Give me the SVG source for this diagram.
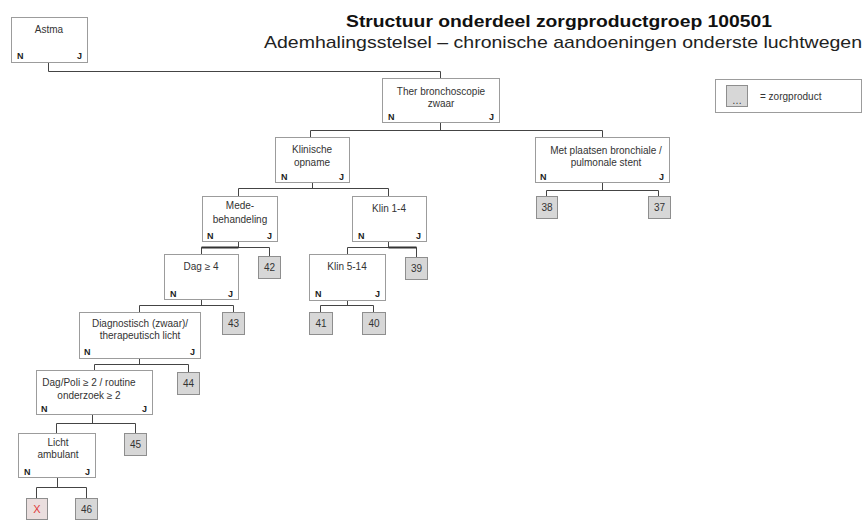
<svg xmlns="http://www.w3.org/2000/svg" width="865" height="520" viewBox="0 0 865 520">
<style>
.bg{fill:#fff}
.box{fill:#fff;stroke:#9c9c9c;stroke-width:1}
.prod{fill:#d7d7d7;stroke:#8e8e8e;stroke-width:1}
.xbox{fill:#eadede;stroke:#8e8e8e;stroke-width:1}
.t{font-family:"Liberation Sans",Arial,sans-serif;font-size:10px;fill:#333;text-anchor:middle}
.n{font-family:"Liberation Sans",Arial,sans-serif;font-size:9px;font-weight:bold;fill:#222;text-anchor:start}
.j{font-family:"Liberation Sans",Arial,sans-serif;font-size:9px;font-weight:bold;fill:#222;text-anchor:end}
.p{font-family:"Liberation Sans",Arial,sans-serif;font-size:10px;fill:#333;text-anchor:middle}
.ln{fill:none;stroke:#444;stroke-width:1}
.thk{fill:none;stroke:#333;stroke-width:2}
.title{font-family:"Liberation Sans",Arial,sans-serif;font-size:17px;font-weight:bold;fill:#111}
.sub{font-family:"Liberation Sans",Arial,sans-serif;font-size:17px;fill:#222}
</style>
<rect class="bg" x="0" y="0" width="865" height="520"/>

<g id="title">
<text class="title" x="346" y="27" textLength="426" lengthAdjust="spacingAndGlyphs">Structuur onderdeel zorgproductgroep 100501</text>
<text class="sub" x="264" y="48" textLength="598" lengthAdjust="spacingAndGlyphs">Ademhalingsstelsel – chronische aandoeningen onderste luchtwegen</text>
</g>

<g id="legend">
<rect class="box" x="715.5" y="79.5" width="146" height="33"/>
<rect class="prod" x="726.5" y="85.5" width="21" height="21"/>
<text class="p" x="737" y="104" font-size="8">…</text>
<text class="t" x="760" y="100" style="text-anchor:start">= zorgproduct</text>
</g>

<g id="connectors">
<path class="ln" d="M48.5,63 V71.5 H440.5 V78"/>
<path class="ln" d="M440.5,123 V130.5"/>
<path class="ln" d="M310.5,137 V130.5 H602.5 V137"/>
<path class="ln" d="M312.5,183 V188.5"/>
<path class="ln" d="M238.5,196 V188.5 H388.5 V196"/>
<path class="ln" d="M602.5,183 V190.5"/>
<path class="ln" d="M546.5,196 V190.5 H658.5 V196"/>
<path class="ln" d="M238.5,242 V247.5"/>
<path class="ln" d="M201.5,254 V247.5 H269.5 V256"/>
<path class="thk" d="M201.5,247.5 H238.5"/>
<path class="ln" d="M388.5,242 V247.5"/>
<path class="ln" d="M347.5,254 V247.5 H416.5 V257"/>
<path class="thk" d="M388.5,247.5 H416.5"/>
<path class="ln" d="M201.5,300 V305.5"/>
<path class="ln" d="M139.5,312 V305.5 H233.5 V312"/>
<path class="ln" d="M347.5,301 V305.5"/>
<path class="ln" d="M320.5,312 V305.5 H373.5 V312"/>
<path class="ln" d="M139.5,359 V364.5"/>
<path class="ln" d="M94.5,370 V364.5 H188.5 V372"/>
<path class="ln" d="M92.5,415 V423.5"/>
<path class="ln" d="M56.5,433 V423.5 H135.5 V433"/>
<path class="ln" d="M57.5,478 V487.5"/>
<path class="ln" d="M36.5,498 V487.5 H86.5 V498"/>
</g>

<g id="astma">
<rect class="box" x="11.5" y="17.5" width="76" height="45"/>
<text class="t" x="49" y="33">Astma</text>
<text class="n" x="17" y="59">N</text><text class="j" x="82" y="59">J</text>
</g>

<g id="ther">
<rect class="box" x="382.5" y="78.5" width="117" height="44"/>
<text class="t" x="441" y="95">Ther bronchoscopie</text>
<text class="t" x="441" y="107">zwaar</text>
<text class="n" x="388" y="120">N</text><text class="j" x="494" y="120">J</text>
</g>

<g id="klinische">
<rect class="box" x="275.5" y="137.5" width="74" height="45"/>
<text class="t" x="312" y="153">Klinische</text>
<text class="t" x="312" y="166">opname</text>
<text class="n" x="281" y="180">N</text><text class="j" x="344" y="180">J</text>
</g>

<g id="met">
<rect class="box" x="535.5" y="137.5" width="134" height="45"/>
<text class="t" x="606" y="154">Met plaatsen bronchiale /</text>
<text class="t" x="606" y="166">pulmonale stent</text>
<text class="n" x="540" y="180">N</text><text class="j" x="664" y="180">J</text>
</g>

<g id="mede">
<rect class="box" x="202.5" y="196.5" width="75" height="45"/>
<text class="t" x="240" y="209">Mede-</text>
<text class="t" x="240" y="223">behandeling</text>
<text class="n" x="207" y="239">N</text><text class="j" x="272" y="239">J</text>
</g>

<g id="klin14">
<rect class="box" x="352.5" y="196.5" width="74" height="45"/>
<text class="t" x="389" y="212">Klin 1-4</text>
<text class="n" x="358" y="239">N</text><text class="j" x="421" y="239">J</text>
</g>

<g id="dag">
<rect class="box" x="164.5" y="254.5" width="74" height="45"/>
<text class="t" x="201" y="270">Dag ≥ 4</text>
<text class="n" x="170" y="297">N</text><text class="j" x="233" y="297">J</text>
</g>

<g id="klin514">
<rect class="box" x="309.5" y="254.5" width="76" height="46"/>
<text class="t" x="347" y="270">Klin 5-14</text>
<text class="n" x="315" y="297">N</text><text class="j" x="380" y="297">J</text>
</g>

<g id="diagnostisch">
<rect class="box" x="79.5" y="312.5" width="121" height="46"/>
<text class="t" x="140" y="327">Diagnostisch (zwaar)/</text>
<text class="t" x="140" y="339">therapeutisch licht</text>
<text class="n" x="84" y="355">N</text><text class="j" x="195" y="355">J</text>
</g>

<g id="dagpoli">
<rect class="box" x="36.5" y="370.5" width="116" height="44"/>
<text class="t" x="89" y="386">Dag/Poli ≥ 2 / routine</text>
<text class="t" x="89" y="399">onderzoek ≥ 2</text>
<text class="n" x="41" y="412">N</text><text class="j" x="147" y="412">J</text>
</g>

<g id="licht">
<rect class="box" x="18.5" y="433.5" width="77" height="44"/>
<text class="t" x="58" y="446">Licht</text>
<text class="t" x="58" y="458">ambulant</text>
<text class="n" x="24" y="475">N</text><text class="j" x="90" y="475">J</text>
</g>

<g id="p42"><rect class="prod" x="258.5" y="256.5" width="22" height="22"/><text class="p" x="269.5" y="271">42</text></g>
<g id="p39"><rect class="prod" x="405.5" y="257.5" width="22" height="22"/><text class="p" x="416.5" y="272">39</text></g>
<g id="p43"><rect class="prod" x="222.5" y="312.5" width="22" height="22"/><text class="p" x="233.5" y="327">43</text></g>
<g id="p41"><rect class="prod" x="309.5" y="312.5" width="23" height="22"/><text class="p" x="321" y="327">41</text></g>
<g id="p40"><rect class="prod" x="362.5" y="312.5" width="23" height="22"/><text class="p" x="374" y="327">40</text></g>
<g id="p44"><rect class="prod" x="177.5" y="372.5" width="22" height="22"/><text class="p" x="188.5" y="387">44</text></g>
<g id="p45"><rect class="prod" x="124.5" y="433.5" width="22" height="22"/><text class="p" x="135.5" y="448">45</text></g>
<g id="px"><rect class="xbox" x="26.5" y="498.5" width="21" height="21"/><text class="p" x="37" y="513" style="fill:#e03a3a;font-size:11px">X</text></g>
<g id="p46"><rect class="prod" x="75.5" y="498.5" width="22" height="21"/><text class="p" x="86.5" y="513">46</text></g>
<g id="p38"><rect class="prod" x="536.5" y="196.5" width="21" height="22"/><text class="p" x="547" y="211">38</text></g>
<g id="p37"><rect class="prod" x="648.5" y="196.5" width="22" height="22"/><text class="p" x="659.5" y="211">37</text></g>
</svg>
